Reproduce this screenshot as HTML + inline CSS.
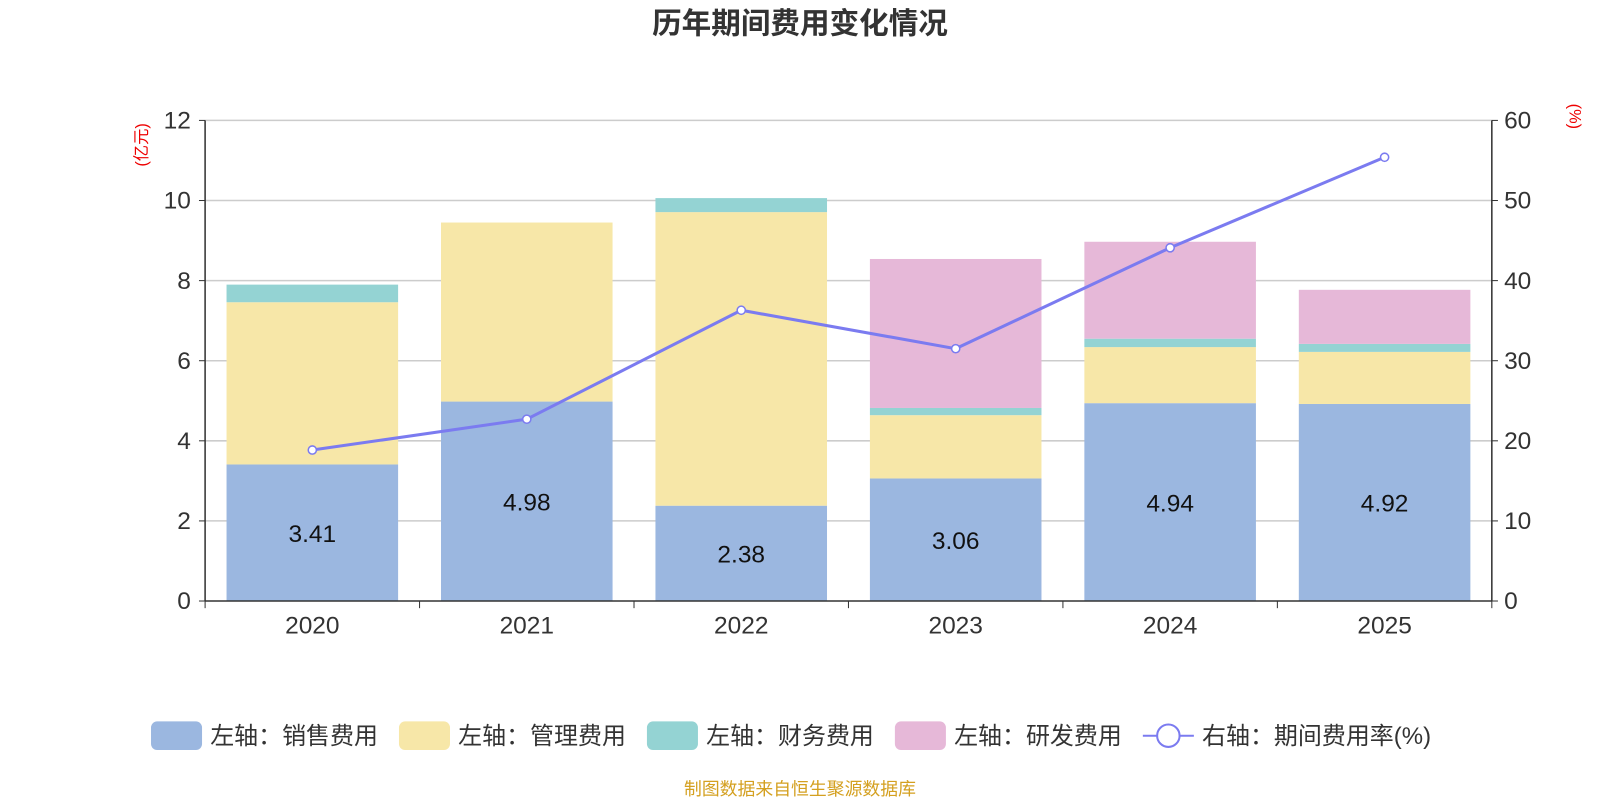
<!DOCTYPE html>
<html><head><meta charset="utf-8">
<style>
html,body{margin:0;padding:0;background:#fff;}
body{width:1600px;height:800px;overflow:hidden;font-family:"Liberation Sans","Noto Sans CJK SC",sans-serif;}
</style></head>
<body>
<svg id="chart" width="1600" height="800" xmlns="http://www.w3.org/2000/svg" font-family="Liberation Sans, Noto Sans CJK SC, sans-serif">
<g transform="scale(1.0204)">
<text x="784" y="33" text-anchor="middle" font-size="29" font-weight="bold" fill="#333">历年期间费用变化情况</text>
<text x="0" y="0" transform="translate(144,142) rotate(-90)" text-anchor="middle" font-size="16" fill="#e00">(亿元)</text>
<text x="0" y="0" transform="translate(1538,114) rotate(90)" text-anchor="middle" font-size="16" fill="#e00">(%)</text>
<g id="grid"></g><g id="bars"></g><g id="line"></g><g id="axes"></g>
<g id="legend"></g>
<text x="784" y="779" text-anchor="middle" font-size="17.5" fill="#d4a020">制图数据来自恒生聚源数据库</text>
</g>
</svg>
<script>
const categories=["2020","2021","2022","2023","2024","2025"];
const sales=[3.41,4.98,2.38,3.06,4.94,4.92];
const mgmt=[4.05,4.47,7.33,1.58,1.40,1.30];
const fin=[0.44,0,0.35,0.18,0.21,0.20];
const rd=[0,0,0,3.72,2.42,1.35];
const rate=[18.85,22.7,36.3,31.5,44.1,55.4];
const leftTicks=[0,2,4,6,8,10,12];
const rightTicks=[0,10,20,30,40,50,60];

const NS="http://www.w3.org/2000/svg";
const X0=201,X1=1462,Y0=589,Y1=118;
const band=(X1-X0)/categories.length;
const yL=v=>Y0-(v/12)*(Y0-Y1);
const yR=v=>Y0-(v/60)*(Y0-Y1);
const xc=i=>X0+band*(i+0.5);
function mk(tag,attrs,parent,text){const e=document.createElementNS(NS,tag);for(const k in attrs)e.setAttribute(k,attrs[k]);if(text!==undefined)e.textContent=text;document.getElementById(parent).appendChild(e);return e;}

leftTicks.forEach((t,i)=>{
  const y=yL(t);
  if(t>0){const g=mk('line',{x1:X0,x2:X1,y1:y,y2:y,stroke:'#ccc','stroke-width':1.5},'grid');
  
  }
  const l=mk('text',{x:X0-14,y:y+8,'text-anchor':'end','font-size':24,fill:'#333'},'axes',t);
  
  
  mk('line',{x1:X0-6,x2:X0,y1:y,y2:y,stroke:'#333'},'axes');
});
rightTicks.forEach(t=>{
  const y=yR(t);
  const l=mk('text',{x:X1+12,y:y+8,'text-anchor':'start','font-size':24,fill:'#333'},'axes',t);
  
  
  mk('line',{x1:X1,x2:X1+6,y1:y,y2:y,stroke:'#333'},'axes');
});
mk('line',{x1:X0,x2:X0,y1:Y1,y2:Y0,stroke:'#333','stroke-width':1.5},'axes');
mk('line',{x1:X1,x2:X1,y1:Y1,y2:Y0,stroke:'#333','stroke-width':1.5},'axes');
mk('line',{x1:X0,x2:X1,y1:Y0,y2:Y0,stroke:'#333','stroke-width':1.5},'axes');
for(let i=0;i<=categories.length;i++){const x=X0+band*i;mk('line',{x1:x,x2:x,y1:Y0,y2:Y0+7,stroke:'#333'},'axes');}
categories.forEach((c,i)=>{
  const l=mk('text',{x:xc(i),y:621,'text-anchor':'middle','font-size':24,fill:'#333'},'axes',c);
  
  
});

const series=[[sales,'#9bb7e0','sales'],[mgmt,'#f7e7a8','mgmt'],[fin,'#94d3d3','finance'],[rd,'#e6b8d8','rd']];
const bw=band*0.8;
categories.forEach((c,i)=>{
  let base=0;
  series.forEach(([arr,col,nm])=>{
    const v=arr[i];if(v<=0)return;
    const r=mk('rect',{x:xc(i)-bw/2,y:yL(base+v),width:bw,height:yL(base)-yL(base+v),fill:col},'bars');
    
    
    base+=v;
  });
  const t=mk('text',{x:xc(i),y:(yL(sales[i])+Y0)/2+9,'text-anchor':'middle','font-size':24,fill:'#111'},'bars',sales[i].toFixed(2));
  
  
});

const pts=rate.map((v,i)=>xc(i)+','+yR(v)).join(' ');
const pl=mk('polyline',{points:pts,fill:'none',stroke:'#7b7bf0','stroke-width':3},'line');


rate.forEach((v,i)=>{
  const p=mk('circle',{cx:xc(i),cy:yR(v),r:4,fill:'#fff',stroke:'#7b7bf0','stroke-width':1.5},'line');
  
  
});

const legendItems=[['左轴：销售费用','#9bb7e0',148],['左轴：管理费用','#f7e7a8',391],['左轴：财务费用','#94d3d3',634],['左轴：研发费用','#e6b8d8',877]];
legendItems.forEach(([lab,col,x])=>{
  const r=mk('rect',{x:x,y:707,width:50,height:28,rx:6,fill:col},'legend');
  
  
  const t=mk('text',{x:x+58,y:729,'font-size':23.5,fill:'#333'},'legend',lab);
  
  
});
mk('line',{x1:1120,x2:1170,y1:721,y2:721,stroke:'#7b7bf0','stroke-width':2},'legend');
const lc=mk('circle',{cx:1145,cy:721,r:11,fill:'#fff',stroke:'#7b7bf0','stroke-width':2},'legend');


const lt=mk('text',{x:1178,y:729,'font-size':23.5,fill:'#333'},'legend','右轴：期间费用率(%)');


</script>
</body></html>
